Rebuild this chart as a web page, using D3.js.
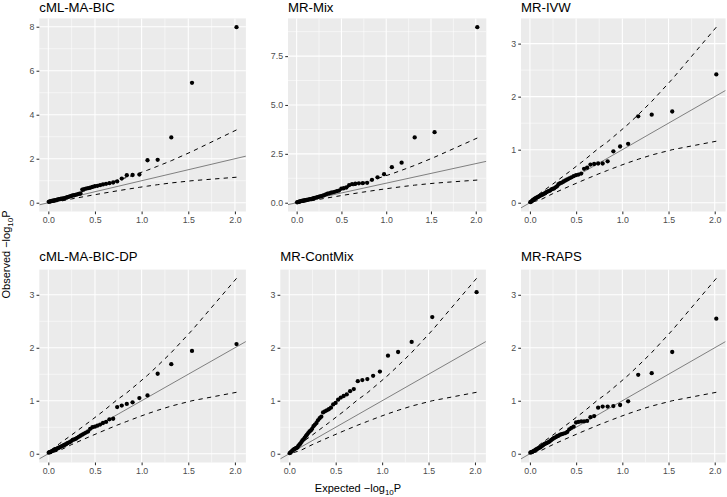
<!DOCTYPE html>
<html><head><meta charset="utf-8">
<script src="https://cdn.jsdelivr.net/npm/d3@7"></script>
<style>
body{margin:0;background:#fff}
svg{display:block}
text{font-family:"Liberation Sans",Arial,Helvetica,sans-serif}
</style>
</head><body>
<svg id="chart" width="727" height="497"></svg>
<script>
// ---------------- DATA ----------------
const panelTitles = ["cML-MA-BIC", "MR-Mix", "MR-IVW", "cML-MA-BIC-DP", "MR-ContMix", "MR-RAPS"];

// expected -log10 P (sorted, largest first)
const expectedP = [2.017,1.540,1.318,1.172,1.063,0.976,0.903,0.841,0.787,0.738,
  0.695,0.655,0.619,0.586,0.555,0.526,0.499,0.473,0.449,0.426,
  0.404,0.384,0.364,0.345,0.327,0.309,0.293,0.277,0.261,0.246,
  0.232,0.218,0.204,0.191,0.178,0.166,0.154,0.142,0.131,0.119,
  0.109,0.098,0.088,0.078,0.068,0.058,0.049,0.039,0.030,0.021,
  0.013,0.004];

// observed -log10 P per method
const obsCmlMaBic = [7.98,5.45,2.97,1.95,1.93,1.28,1.26,1.25,1.10,0.97,
  0.92,0.89,0.86,0.83,0.80,0.77,0.75,0.72,0.69,0.66,
  0.64,0.62,0.60,0.42,0.40,0.38,0.36,0.34,0.33,0.31,
  0.29,0.27,0.25,0.23,0.21,0.20,0.19,0.18,0.17,0.16,
  0.15,0.14,0.13,0.12,0.11,0.10,0.09,0.08,0.07,0.06,
  0.05,0.04];
const obsMrMix = [8.98,3.61,3.34,2.05,1.82,1.46,1.30,1.17,1.02,1.00,
  0.99,0.97,0.95,0.90,0.78,0.74,0.72,0.62,0.59,0.56,
  0.53,0.51,0.48,0.46,0.43,0.39,0.36,0.34,0.32,0.30,
  0.28,0.26,0.25,0.23,0.21,0.20,0.18,0.17,0.16,0.15,
  0.14,0.13,0.12,0.11,0.10,0.09,0.08,0.07,0.05,0.04,
  0.03,0.02];
const obsMrIvw = [2.42,1.72,1.66,1.63,1.11,1.06,0.97,0.78,0.74,0.74,
  0.73,0.72,0.66,0.64,0.55,0.53,0.52,0.50,0.48,0.46,
  0.44,0.42,0.40,0.38,0.37,0.35,0.31,0.29,0.27,0.26,
  0.25,0.23,0.22,0.21,0.20,0.18,0.17,0.16,0.15,0.14,
  0.13,0.12,0.11,0.10,0.09,0.08,0.07,0.06,0.05,0.03,
  0.02,0.01];
const obsCmlMaBicDp = [2.07,1.94,1.69,1.51,1.10,1.05,0.97,0.94,0.91,0.88,
  0.66,0.65,0.60,0.58,0.55,0.53,0.51,0.50,0.47,0.42,
  0.40,0.38,0.36,0.34,0.32,0.30,0.28,0.27,0.26,0.24,
  0.22,0.21,0.20,0.18,0.17,0.16,0.15,0.14,0.13,0.12,
  0.11,0.10,0.09,0.08,0.08,0.07,0.06,0.05,0.04,0.03,
  0.03,0.02];
const obsMrContMix = [3.05,2.58,2.11,1.92,1.85,1.55,1.47,1.41,1.39,1.37,
  1.22,1.18,1.12,1.09,1.06,1.02,0.96,0.93,0.87,0.84,
  0.82,0.80,0.78,0.70,0.67,0.63,0.58,0.55,0.52,0.47,
  0.44,0.42,0.39,0.36,0.33,0.30,0.27,0.25,0.22,0.19,
  0.17,0.15,0.12,0.11,0.10,0.09,0.08,0.07,0.05,0.04,
  0.02,0.01];
const obsMrRaps = [2.55,1.92,1.52,1.49,0.99,0.92,0.90,0.89,0.89,0.87,
  0.71,0.69,0.62,0.61,0.61,0.60,0.59,0.51,0.49,0.46,
  0.41,0.39,0.38,0.37,0.36,0.34,0.33,0.31,0.30,0.28,
  0.26,0.24,0.22,0.21,0.20,0.19,0.18,0.16,0.15,0.13,
  0.12,0.11,0.10,0.09,0.08,0.07,0.06,0.05,0.04,0.03,
  0.03,0.02];

// 95% confidence band (dashed lines)
const bandExpected = [2.017,1.540,1.318,1.172,1.063,0.976,0.841,0.738,0.586,0.426,0.246,0.119,0.004];
const bandUpper    = [3.31,2.33,1.91,1.66,1.48,1.35,1.15,1.02,0.80,0.585,0.35,0.19,0.031];
const bandLower    = [1.16,1.00,0.90,0.82,0.755,0.70,0.61,0.54,0.43,0.31,0.17,0.06,0.0002];

// ticks
const xTicks = [0, 0.5, 1, 1.5, 2];
const xTickLabels = ["0.0", "0.5", "1.0", "1.5", "2.0"];
const xMinor = [0.25, 0.75, 1.25, 1.75];
const yTicksBic = [0, 2, 4, 6, 8];
const yTickLabelsBic = ["0", "2", "4", "6", "8"];
const yMinorBic = [1, 3, 5, 7];
const yTicksMix = [0, 2.5, 5, 7.5];
const yTickLabelsMix = ["0.0", "2.5", "5.0", "7.5"];
const yMinorMix = [1.25, 3.75, 6.25, 8.75];
const yTicksStd = [0, 1, 2, 3];
const yTickLabelsStd = ["0", "1", "2", "3"];
const yMinorStd = [0.5, 1.5, 2.5];

// ---------------- LAYOUT ----------------
const observedSets = [obsCmlMaBic, obsMrMix, obsMrIvw, obsCmlMaBicDp, obsMrContMix, obsMrRaps];
const yTickSets = [
  [yTicksBic, yTickLabelsBic, yMinorBic],
  [yTicksMix, yTickLabelsMix, yMinorMix],
  [yTicksStd, yTickLabelsStd, yMinorStd],
  [yTicksStd, yTickLabelsStd, yMinorStd],
  [yTicksStd, yTickLabelsStd, yMinorStd],
  [yTicksStd, yTickLabelsStd, yMinorStd]
];
const boxes = [
  {l: 39.3, r: 245.9, t: 18.4, b: 211.5, ty: 11.8},
  {l: 288.0, r: 486.3, t: 18.4, b: 211.5, ty: 11.8},
  {l: 521.0, r: 725.6, t: 18.4, b: 211.5, ty: 11.8},
  {l: 39.3, r: 245.9, t: 269.6, b: 462.5, ty: 260.7},
  {l: 280.3, r: 485.9, t: 269.6, b: 462.5, ty: 260.7},
  {l: 521.0, r: 725.6, t: 269.6, b: 462.5, ty: 260.7}
];

const svg = d3.select("#chart");
const defs = svg.append("defs");

function expand(ext) {
  const pad = (ext[1] - ext[0]) * 0.05;
  return [ext[0] - pad, ext[1] + pad];
}

const xDomain = expand(d3.extent(expectedP.concat(bandExpected)));

observedSets.forEach((obs, k) => {
  const bx = boxes[k];
  const [yT, yL, yM] = yTickSets[k];
  const yDomain = expand(d3.extent(obs.concat(bandUpper, bandLower)));
  const x = d3.scaleLinear().domain(xDomain).range([bx.l, bx.r]);
  const y = d3.scaleLinear().domain(yDomain).range([bx.b, bx.t]);

  const g = svg.append("g");
  defs.append("clipPath").attr("id", "clip" + k)
    .append("rect").attr("x", bx.l).attr("y", bx.t)
    .attr("width", bx.r - bx.l).attr("height", bx.b - bx.t);

  // panel background
  g.append("rect").attr("x", bx.l).attr("y", bx.t)
    .attr("width", bx.r - bx.l).attr("height", bx.b - bx.t)
    .attr("fill", "#EBEBEB");

  // minor grid
  g.selectAll(".vminor").data(xMinor).join("line")
    .attr("x1", d => x(d)).attr("x2", d => x(d)).attr("y1", bx.t).attr("y2", bx.b)
    .attr("stroke", "#fff").attr("stroke-width", 0.53);
  g.selectAll(".hminor").data(yM.filter(v => v > yDomain[0] && v < yDomain[1])).join("line")
    .attr("y1", d => y(d)).attr("y2", d => y(d)).attr("x1", bx.l).attr("x2", bx.r)
    .attr("stroke", "#fff").attr("stroke-width", 0.53);
  // major grid
  g.append("g").selectAll("line").data(xTicks).join("line")
    .attr("x1", d => x(d)).attr("x2", d => x(d)).attr("y1", bx.t).attr("y2", bx.b)
    .attr("stroke", "#fff").attr("stroke-width", 1.07);
  g.append("g").selectAll("line").data(yT).join("line")
    .attr("y1", d => y(d)).attr("y2", d => y(d)).attr("x1", bx.l).attr("x2", bx.r)
    .attr("stroke", "#fff").attr("stroke-width", 1.07);

  const inner = g.append("g").attr("clip-path", "url(#clip" + k + ")");

  // y = x reference line
  inner.append("line")
    .attr("x1", x(xDomain[0])).attr("y1", y(xDomain[0]))
    .attr("x2", x(xDomain[1])).attr("y2", y(xDomain[1]))
    .attr("stroke", "#7F7F7F").attr("stroke-width", 1);

  // confidence band
  const idx = d3.range(bandExpected.length);
  [bandUpper, bandLower].forEach(band => {
    inner.append("path")
      .datum(idx)
      .attr("d", d3.line().x(i => x(bandExpected[i])).y(i => y(band[i])))
      .attr("fill", "none").attr("stroke", "#000").attr("stroke-width", 1)
      .attr("stroke-dasharray", "4.3,4.3");
  });

  // points
  inner.selectAll("circle").data(d3.range(obs.length)).join("circle")
    .attr("cx", i => x(expectedP[i])).attr("cy", i => y(obs[i]))
    .attr("r", 2.15).attr("fill", "#000");

  // axes
  const xa = g.append("g").attr("transform", `translate(0,${bx.b})`)
    .call(d3.axisBottom(x).tickValues(xTicks).tickFormat((d, i) => xTickLabels[i])
      .tickSize(2.75).tickPadding(2.2));
  const ya = g.append("g").attr("transform", `translate(${bx.l},0)`)
    .call(d3.axisLeft(y).tickValues(yT).tickFormat((d, i) => yL[i])
      .tickSize(2.75).tickPadding(2.2));
  [xa, ya].forEach(a => {
    a.select(".domain").remove();
    a.selectAll(".tick line").attr("stroke", "#333333").attr("stroke-width", 1.07);
    a.selectAll(".tick text").attr("fill", "#4D4D4D")
      .style("font-size", "8.8px").style("font-family", '"Liberation Sans",Arial,sans-serif');
  });

  // title
  g.append("text").attr("x", bx.l).attr("y", bx.ty)
    .attr("font-size", 13.2).attr("fill", "#000").text(panelTitles[k]);
});

// axis titles
const xt = svg.append("text").attr("x", 358).attr("y", 492)
  .attr("text-anchor", "middle").attr("font-size", 11).attr("fill", "#000");
xt.append("tspan").text("Expected \u2212log");
xt.append("tspan").attr("font-size", 8).attr("dy", 2.5).text("10");
xt.append("tspan").attr("dy", -2.5).text("P");

const yt = svg.append("text").attr("transform", "translate(10,254.5) rotate(-90)")
  .attr("text-anchor", "middle").attr("font-size", 11).attr("fill", "#000");
yt.append("tspan").text("Observed \u2212log");
yt.append("tspan").attr("font-size", 8).attr("dy", 2.5).text("10");
yt.append("tspan").attr("dy", -2.5).text("P");
</script>
</body></html>
